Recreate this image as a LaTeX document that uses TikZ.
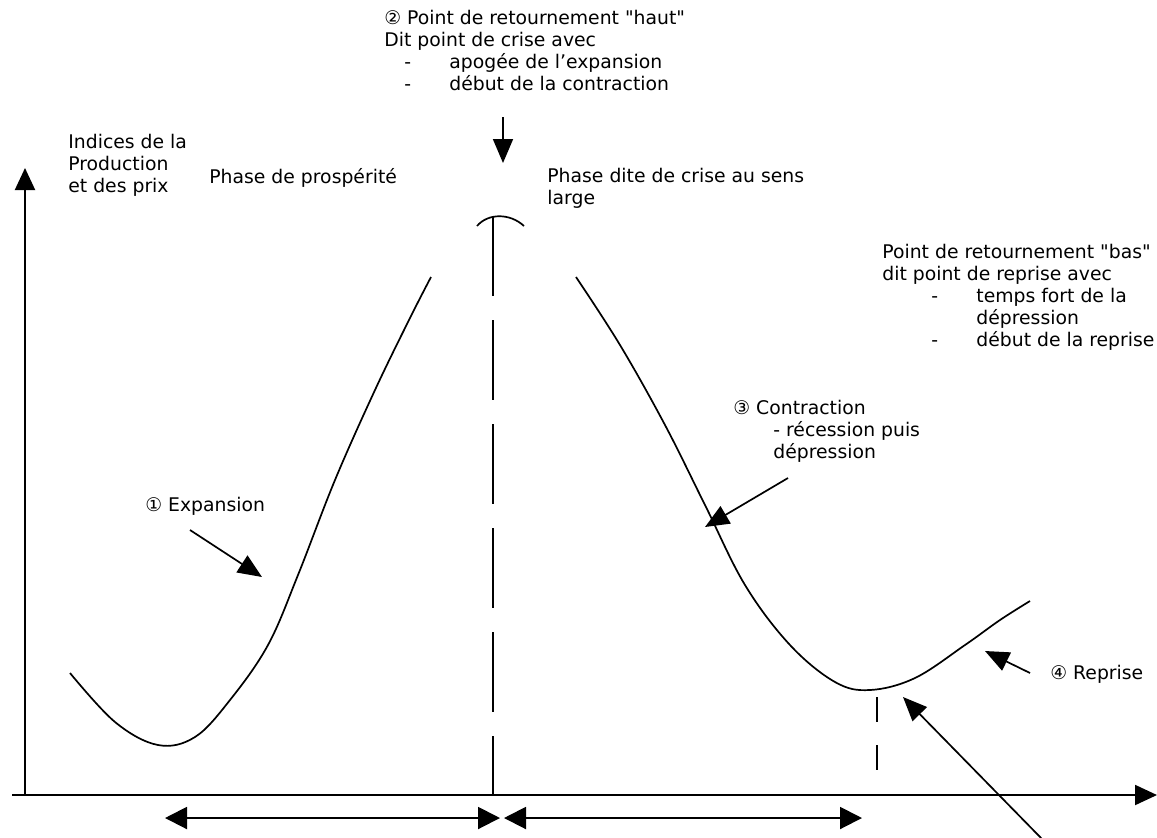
\documentclass[tikz,border=0pt]{standalone}
\usepackage{fontspec}
\setmainfont{DejaVu Sans}[Ligatures=TeXOff]
\usetikzlibrary{arrows.meta, positioning}
\tikzset{
  cyclelabel/.style={
    font=\fontsize{9.4}{11}\selectfont, align=left,
    inner sep=0pt, anchor=north west
  },
  cycleaxis/.style={
    line width=1pt, -{Triangle[length=11pt, width=10pt]}
  },
  cyclecurve/.style={line width=0.85pt},
  cyclearrow/.style={
    line width=0.85pt, -{Triangle[length=12pt, width=10pt]}
  },
  cyclephase/.style={
    line width=1pt,
    {Triangle[length=11pt, width=11pt]}-{Triangle[length=11pt, width=11pt]}
  },
  cycledash/.style={line width=0.9pt, dash pattern=on 40pt off 12pt},
}
\newcommand{\cycledashitem}[2]{\hspace*{#1}\makebox[22.5pt][l]{-}#2}

\begin{document}
\begin{tikzpicture}[x=0.5pt, y=-0.5pt]
  \useasboundingbox (0,0) rectangle (1157,837);

  % Axes
  \coordinate (origin) at (25,795);
  \coordinate (xstart) at (12,795);
  \coordinate (xend) at (1157,795);
  \coordinate (yend) at (25,168);
  \draw[cycleaxis] (xstart) -- (xend);
  \draw[cycleaxis] (origin) -- (yend);

  % Texts
  \node[cyclelabel] (topturn) at (384,10)
    {② Point de retournement "haut"\\
     Dit point de crise avec\\
     \cycledashitem{10pt}{apogée de l’expansion}\\
     \cycledashitem{10pt}{début de la contraction}};
  \node[cyclelabel] (ylabel) at (68,134)
    {Indices de la\\Production\\et des prix};
  \node[cyclelabel] (prosperity) at (209,168) {Phase de prospérité};
  \node[cyclelabel] (crisis) at (547,168)
    {Phase dite de crise au sens\\large};
  \node[cyclelabel] (lowturn) at (882,244)
    {Point de retournement "bas"\\
     dit point de reprise avec\\
     \cycledashitem{24.5pt}{temps fort de la}\\
     \hspace*{47pt}dépression\\
     \cycledashitem{24.5pt}{début de la reprise}};
  \node[cyclelabel] (expansion) at (145,497) {① Expansion};
  \node[cyclelabel] (contraction) at (733,400)
    {③ Contraction\\
     \hspace*{20pt}- récession puis\\
     \hspace*{20pt}dépression};
  \node[cyclelabel] (reprise) at (1050,665) {④ Reprise};

  % Cycle curve
  \draw[cyclecurve] plot[smooth, tension=0.6] coordinates {
    (70,673) (115,722) (158,745) (195,737) (230,700) (268,645)
    (298,575) (335,480) (375,390) (410,318) (431,277)};
  \draw[cyclecurve] plot[smooth, tension=0.6] coordinates {
    (576,277) (620,345) (665,425) (705,505) (745,585) (790,645)
    (835,682) (870,690) (915,678) (965,645) (1000,620) (1030,601)};

  % Peak and trough
  \coordinate (peak) at (493,216);
  \coordinate (peakfoot) at (493,795);
  \draw[cyclecurve] (477,226) .. controls (488,213) and (510,213) .. (524,226);
  \draw[cycledash] (peak) -- (peakfoot);
  \coordinate (trough) at (877,697);
  \coordinate (troughfoot) at (877,772);
  \draw[cycledash, dash pattern=on 12.5pt off 11.5pt] (trough) -- (troughfoot);

  % Pointers
  \coordinate (peaktop) at (503,117);
  \coordinate (peakhead) at (503,163);
  \draw[cyclearrow] (peaktop) -- (peakhead);
  \coordinate (exptip) at (262,577);
  \coordinate (expfrom) at (190,530);
  \draw[cyclearrow] (expfrom) -- (exptip);
  \coordinate (contip) at (705,527);
  \coordinate (confrom) at (788,478);
  \draw[cyclearrow] (confrom) -- (contip);
  \coordinate (reptip) at (985,651);
  \coordinate (repfrom) at (1030,673);
  \draw[cyclearrow] (repfrom) -- (reptip);
  \coordinate (lowtip) at (903,697);
  \coordinate (lowfrom) at (1043,840);
  \draw[cyclearrow] (lowfrom) -- (lowtip);

  % Phases
  \coordinate (phaseA) at (165,818);
  \coordinate (phaseB) at (500,818);
  \coordinate (phaseC) at (504,818);
  \coordinate (phaseD) at (862,818);
  \draw[cyclephase] (phaseA) -- (phaseB);
  \draw[cyclephase] (phaseC) -- (phaseD);
\end{tikzpicture}
\end{document}
